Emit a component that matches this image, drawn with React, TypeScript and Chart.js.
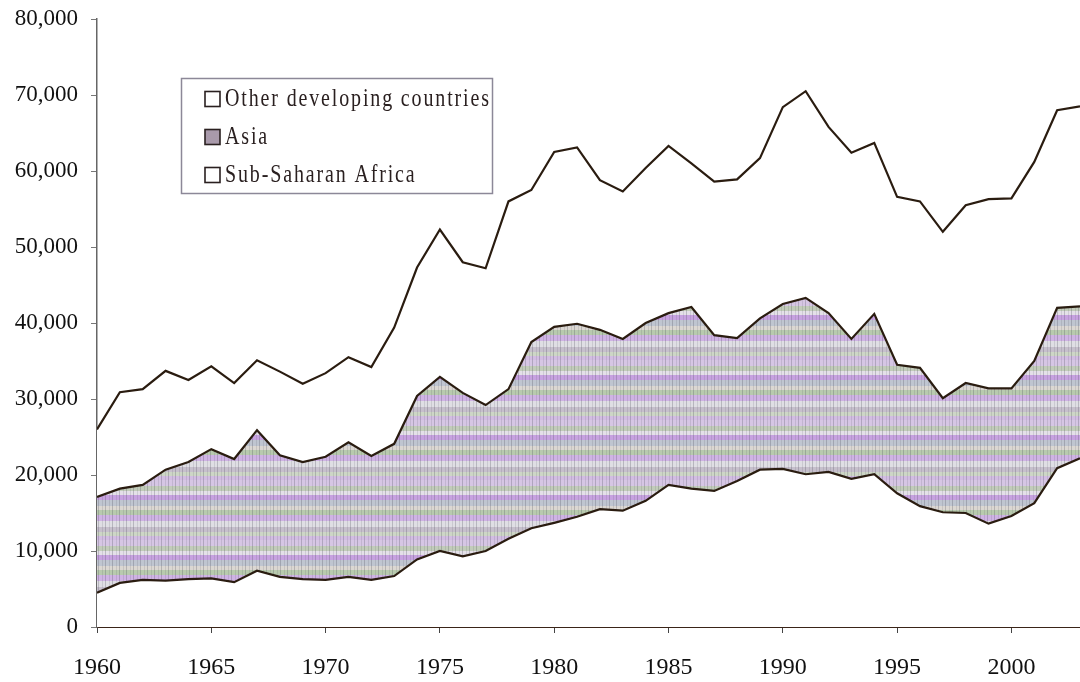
import React, { useEffect, useRef } from "react";
import { Chart, registerables } from "chart.js";

Chart.register(...registerables);

const years = [
  1960, 1961, 1962, 1963, 1964, 1965, 1966, 1967, 1968, 1969,
  1970, 1971, 1972, 1973, 1974, 1975, 1976, 1977, 1978, 1979,
  1980, 1981, 1982, 1983, 1984, 1985, 1986, 1987, 1988, 1989,
  1990, 1991, 1992, 1993, 1994, 1995, 1996, 1997, 1998, 1999,
  2000, 2001, 2002, 2003,
];

const subSaharanAfrica = [
  4500, 5800, 6200, 6100, 6300, 6400, 5900, 7400, 6600, 6300,
  6200, 6600, 6200, 6700, 8900, 10000, 9300, 10000, 11600, 13000,
  13700, 14500, 15500, 15300, 16600, 18700, 18200, 17900, 19200, 20700,
  20800, 20100, 20400, 19500, 20100, 17600, 15900, 15100, 15000, 13600,
  14600, 16300, 20900, 22200,
];

const asia = [
  12600, 12400, 12500, 14600, 15400, 17000, 16200, 18500, 16000, 15400,
  16200, 17700, 16300, 17400, 21500, 22900, 21500, 19200, 19700, 24500,
  25800, 25400, 23600, 22600, 23400, 22600, 23900, 20500, 18800, 19900,
  21700, 23200, 20900, 18400, 21100, 16900, 18200, 15000, 17100, 17800,
  16800, 18700, 21100, 20000,
];

const otherDeveloping = [
  8900, 12700, 12600, 13000, 10800, 10900, 10000, 9200, 11000, 10300,
  11000, 11200, 11700, 15300, 16900, 19400, 17200, 18000, 24700, 20000,
  23000, 23200, 19700, 19400, 20400, 22000, 18900, 20200, 20900, 21100,
  25900, 27200, 24500, 24500, 22500, 22100, 21900, 21900, 23400, 24900,
  25000, 26200, 26000, 26300,
];

const seriesLabels = ["Sub-Saharan Africa", "Asia", "Other developing countries"];

const FONT = '"Liberation Serif", "Times New Roman", serif';
const LINE = "#2a1c10";

function makeAsiaPattern(): CanvasPattern | string {
  const w = 7;
  const c = document.createElement("canvas");
  c.width = w;
  c.height = 60;
  const g = c.getContext("2d");
  if (!g) return "#cfc6d4";
  const bands: [string, number][] = [
    ["#d6c6e4", 6],
    ["#c2ccba", 5],
    ["#e4e0e8", 4],
    ["#c7a2e0", 5],
    ["#bfc5d0", 6],
    ["#dbd7d2", 4],
    ["#b8caae", 5],
    ["#cfb3e4", 6],
    ["#dfdee4", 6],
    ["#c6bfcc", 5],
    ["#cdd6c6", 4],
    ["#d2bde2", 4],
  ];
  let y = 0;
  for (const [col, h] of bands) {
    g.fillStyle = col;
    g.fillRect(0, y, w, h);
    y += h;
  }
  g.fillStyle = "rgba(80,80,95,0.28)";
  g.fillRect(0, 0, 1, 60);
  g.fillStyle = "rgba(80,80,95,0.14)";
  g.fillRect(4, 0, 1, 60);
  return g.createPattern(c, "repeat") || "#cfc6d4";
}

export default function App() {
  const ref = useRef<HTMLCanvasElement | null>(null);

  useEffect(() => {
    document.body.style.margin = "0";
    const canvas = ref.current;
    if (!canvas) return;
    const asiaFill = makeAsiaPattern();

    const legendPlugin = {
      id: "boxLegend",
      afterDraw(chart: any) {
        const ctx = chart.ctx as CanvasRenderingContext2D;
        ctx.save();
        ctx.fillStyle = "#ffffff";
        ctx.fillRect(181, 78, 311, 115);
        ctx.strokeStyle = "#8c8898";
        ctx.lineWidth = 1.5;
        ctx.strokeRect(181.5, 78.5, 311, 115);
        const order = [2, 1, 0];
        const rowsY = [99, 137, 175];
        order.forEach((di, i) => {
          const ds = chart.data.datasets[di];
          const cy = rowsY[i];
          ctx.fillStyle = di === 1 ? "#a99aab" : "#ffffff";
          ctx.fillRect(205, cy - 7.5, 15, 15);
          ctx.strokeStyle = "#2a2020";
          ctx.lineWidth = 1.6;
          ctx.strokeRect(205, cy - 7.5, 15, 15);
          ctx.save();
          ctx.translate(225, cy);
          ctx.scale(1, 1.3);
          ctx.fillStyle = "#2a2020";
          ctx.font = `20px ${FONT}`;
          (ctx as any).letterSpacing = "1.85px";
          ctx.textBaseline = "middle";
          ctx.textAlign = "left";
          ctx.fillText(ds.label, 0, 0);
          ctx.restore();
        });
        ctx.restore();
      },
    };

    const mk = (vals: number[]) => years.map((x, i) => ({ x, y: vals[i] }));

    const chart = new Chart(canvas, {
      type: "line",
      data: {
        datasets: [
          {
            label: seriesLabels[0],
            data: mk(subSaharanAfrica),
            borderColor: LINE,
            borderWidth: 2.2,
            backgroundColor: "#ffffff",
            fill: "origin",
            pointRadius: 0,
            tension: 0,
          },
          {
            label: seriesLabels[1],
            data: mk(asia),
            borderColor: LINE,
            borderWidth: 2.2,
            backgroundColor: asiaFill as any,
            fill: "-1",
            pointRadius: 0,
            tension: 0,
          },
          {
            label: seriesLabels[2],
            data: mk(otherDeveloping),
            borderColor: LINE,
            borderWidth: 2.2,
            backgroundColor: "#ffffff",
            fill: "-1",
            pointRadius: 0,
            tension: 0,
          },
        ],
      },
      options: {
        responsive: false,
        animation: false,
        layout: { padding: { top: 19, right: 0, bottom: 0, left: 0 } },
        plugins: {
          legend: { display: false },
          tooltip: { enabled: false },
          title: { display: false },
        },
        scales: {
          x: {
            type: "linear",
            min: 1960,
            max: 2003,
            afterFit: (s: any) => {
              s.height = 55;
              s.paddingLeft = 0;
              s.paddingRight = 0;
            },
            ticks: {
              stepSize: 5,
              includeBounds: false,
              autoSkip: false,
              maxRotation: 0,
              padding: 20,
              color: "#111",
              font: { family: FONT, size: 24 },
              callback: (v: any) => String(v),
            },
            grid: {
              display: true,
              drawOnChartArea: false,
              drawTicks: true,
              tickLength: 6,
              color: "#444",
            },
            border: { display: true, color: "#3a2418", width: 2 },
          },
          y: {
            stacked: true,
            min: 0,
            max: 80000,
            afterFit: (s: any) => {
              s.width = 97;
              s.paddingTop = 0;
              s.paddingBottom = 0;
            },
            ticks: {
              stepSize: 10000,
              padding: 13,
              color: "#111",
              font: { family: FONT, size: 23 },
              callback: (v: any) => Number(v).toLocaleString("en-US"),
            },
            grid: {
              display: true,
              drawOnChartArea: false,
              drawTicks: true,
              tickLength: 6,
              color: "#777",
            },
            border: { display: true, color: "#666", width: 1.5 },
          },
        },
      },
      plugins: [legendPlugin],
    } as any);

    return () => chart.destroy();
  }, []);

  return (
    <div style={{ position: "fixed", left: 0, top: 0, width: 1080, height: 682, background: "#fff" }}>
      <canvas ref={ref} width={1080} height={682} />
    </div>
  );
}
